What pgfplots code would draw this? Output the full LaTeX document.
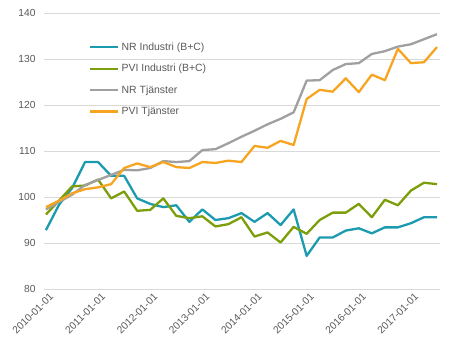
\documentclass[border=0pt]{standalone}
\usepackage{pgfplots}
\pgfplotsset{compat=1.18}
\usepackage{fontspec}
\setmainfont{Liberation Sans}
\definecolor{cteal}{RGB}{28,155,176}
\definecolor{cgreen}{RGB}{123,158,10}
\definecolor{cgray}{RGB}{160,160,160}
\definecolor{corange}{RGB}{247,165,33}
\definecolor{ctext}{RGB}{89,89,89}
\definecolor{cgrid}{RGB}{217,217,217}
\begin{document}
\begin{tikzpicture}
\useasboundingbox (-44bp,-67bp) rectangle (409bp,289bp);
\begin{axis}[
  at={(0,0)}, anchor=south west,
  scale only axis, width=396bp, height=276bp,
  xmin=-0.15, xmax=30.23, ymin=80, ymax=140,
  ytick={80,90,...,140},
  xtick={0,4,...,28},
  xticklabels={2010-01-01,2011-01-01,2012-01-01,2013-01-01,2014-01-01,2015-01-01,2016-01-01,2017-01-01},
  axis line style={draw=none},
  major tick length=0pt,
  ymajorgrids, grid style={cgrid, line width=0.75bp},
  tick label style={font=\fontsize{10.3}{11}\selectfont, text=ctext},
  /pgf/number format/assume math mode=true,
  yticklabel style={xshift=-5bp},
  xticklabel style={rotate=45, anchor=north east, xshift=3bp, yshift=-1bp},
  every axis plot/.append style={line width=2.3bp, mark=none, line join=round},
  legend style={draw=none, fill=none, at={(0.114,0.90)}, anchor=north west,
    font=\fontsize{10.5}{12}\selectfont, text=ctext, row sep=8.3bp, inner sep=0pt},
  legend cell align=left,
  legend image code/.code={\draw[#1] (0bp,0bp) -- (28bp,0bp);},
]
\addplot[cteal] coordinates {
(0,92.8)(1,98.3)(2,101.9)(3,107.6)(4,107.6)(5,104.6)(6,104.6)(7,99.7)(8,98.5)(9,97.8)
(10,98.2)(11,94.6)(12,97.3)(13,95.0)(14,95.4)(15,96.5)(16,94.6)(17,96.5)(18,93.9)(19,97.3)
(20,87.2)(21,91.2)(22,91.2)(23,92.7)(24,93.2)(25,92.1)(26,93.4)(27,93.4)(28,94.3)(29,95.6)(30,95.6)};
\addlegendentry{NR Industri (B+C)}
\addplot[cgreen] coordinates {
(0,96.2)(1,99.2)(2,102.3)(3,102.5)(4,103.8)(5,99.7)(6,101.2)(7,97.0)(8,97.2)(9,99.7)
(10,95.9)(11,95.4)(12,95.8)(13,93.6)(14,94.1)(15,95.6)(16,91.4)(17,92.3)(18,90.1)(19,93.5)
(20,92.0)(21,95.0)(22,96.6)(23,96.6)(24,98.5)(25,95.6)(26,99.4)(27,98.2)(28,101.4)(29,103.1)(30,102.8)};
\addlegendentry{PVI Industri (B+C)}
\addplot[cgray] coordinates {
(0,97.3)(1,98.9)(2,100.5)(3,102.6)(4,103.7)(5,104.8)(6,105.9)(7,105.8)(8,106.3)(9,107.8)
(10,107.6)(11,107.8)(12,110.2)(13,110.4)(14,111.7)(15,113.1)(16,114.4)(17,115.8)(18,117.0)(19,118.4)
(20,125.3)(21,125.4)(22,127.6)(23,128.9)(24,129.1)(25,131.1)(26,131.7)(27,132.7)(28,133.2)(29,134.3)(30,135.4)};
\addlegendentry{NR Tjänster}
\addplot[corange] coordinates {
(0,97.8)(1,99.2)(2,100.8)(3,101.7)(4,102.1)(5,102.8)(6,106.3)(7,107.3)(8,106.5)(9,107.6)
(10,106.5)(11,106.3)(12,107.6)(13,107.4)(14,107.9)(15,107.6)(16,111.1)(17,110.7)(18,112.2)(19,111.3)
(20,121.3)(21,123.3)(22,122.9)(23,125.8)(24,122.8)(25,126.6)(26,125.4)(27,132.2)(28,129.1)(29,129.3)(30,132.6)};
\addlegendentry{PVI Tjänster}
\end{axis}
\end{tikzpicture}
\end{document}
